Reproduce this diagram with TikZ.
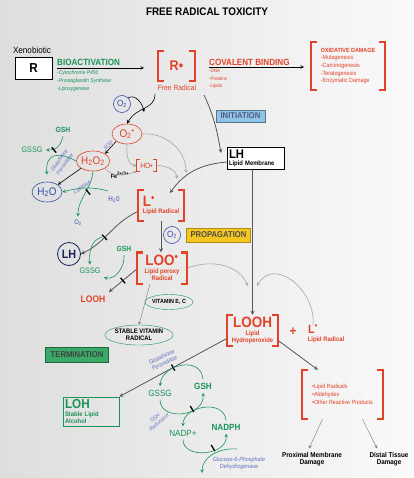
\documentclass[tikz,border=0pt]{standalone}
\usepackage{fontspec}
\setmainfont{Liberation Sans}[FakeStretch=0.9]
\usepackage{xcolor}
\usepackage{tikz}
\usetikzlibrary{shapes.geometric, arrows, positioning, calc}

\definecolor{radred}{RGB}{226,66,40}
\definecolor{enzgreen}{RGB}{24,148,88}
\definecolor{enzblue}{RGB}{96,112,190}
\definecolor{oxblue}{RGB}{48,78,170}
\definecolor{navy}{RGB}{24,36,84}
\definecolor{darkarrow}{RGB}{85,85,85}
\definecolor{lightarrow}{RGB}{165,165,165}
\definecolor{initblue}{RGB}{142,196,232}
\definecolor{propyellow}{RGB}{246,198,32}
\definecolor{termgreen}{RGB}{58,170,104}

\newcommand{\fsz}[2]{\fontsize{#1}{#2}\selectfont}
\newcommand{\redbrackets}[3]{%
  \draw[brak, line width=#2] ([xshift=#3]#1.north west) -| (#1.south west) -- ++(#3,0);
  \draw[brak, line width=#2] ([xshift=-#3]#1.north east) -| (#1.south east) -- ++(-#3,0);}

\tikzstyle{arrow} = [thick,->,>=stealth,darkarrow]
\tikzstyle{thinarrow} = [semithick,->,>=stealth,lightarrow]
\tikzstyle{blackarrow} = [semithick,->,>=stealth,black]
\tikzstyle{greenarrow} = [semithick,->,>=stealth,enzgreen]
\tikzstyle{brak} = [radred, line join=miter]
\tikzstyle{bracketed} = [rectangle, inner sep=0pt, text=radred, font=\bfseries\fsz{6.5}{7.5}, align=center]
\tikzstyle{stage} = [rectangle, draw, semithick, inner sep=1pt, font=\bfseries\fsz{8.5}{10}]
\tikzstyle{molecule} = [ellipse, draw, semithick, inner sep=0pt]
\tikzstyle{enzyme} = [enzblue, font=\itshape\fsz{5.5}{6.5}, align=center, inner sep=0pt]
\tikzstyle{tickmark} = [rectangle, fill=black, inner sep=0pt, minimum width=1.3pt, minimum height=7pt]

\begin{document}
\begin{tikzpicture}[x=1pt, y=-1pt]
    % Background
    \useasboundingbox (0,0) rectangle (413,478);
    \fill[left color=black!13, right color=black!2] (0,0) rectangle (413,478);

    \node[font=\bfseries\fsz{11}{13}] (title) at (207,12) {FREE RADICAL TOXICITY};

    % Bioactivation
    \node[font=\fsz{9}{10}] (xeno) at (32,50) {Xenobiotic};
    \node[rectangle, draw, thick, fill=white, minimum width=37pt, minimum height=22pt, font=\bfseries\fsz{13}{13}] (rbox) at (33.5,68) {R};
    \node[anchor=west, inner sep=0pt, enzgreen, font=\bfseries\fsz{9}{10}] (bioact) at (57,62) {BIOACTIVATION};
    \node[anchor=north west, inner sep=0pt, enzgreen, font=\itshape\fsz{5.5}{8}, align=left] (bioenz) at (57,70) {-Cytochrome P450\\-Prostaglandin Synthase\\-Lipoxygenase};
    \node[bracketed, minimum width=37pt, minimum height=30pt, font=\bfseries\fsz{14}{14}] (rrad) at (176.5,66) {R•};
    \node[radred, font=\fsz{7.5}{8}] (freerad) at (177,88) {Free Radical};
    \coordinate (bioend) at (144,68);
    \draw[blackarrow] (bioact.west |- bioend) -- (bioend);

    % Covalent binding
    \node[anchor=west, inner sep=0pt, radred, font=\bfseries\fsz{9}{10}] (covbind) at (209,62) {COVALENT BINDING};
    \node[anchor=north west, inner sep=0pt, radred, font=\fsz{5}{7.5}, align=left] (covitems) at (209,69) {-DNA\\-Proteins\\-Lipids};
    \node[bracketed, minimum width=74pt, minimum height=48pt, align=left, font=\fsz{6}{7.6}] (oxdmg) at (348,66) {\textbf{OXIDATIVE DAMAGE}\\-Mutagenesis\\-Carcinogenesis\\-Teratogenesis\\-Enzymatic Damage};
    \coordinate (covend) at (304,67);
    \draw[blackarrow] (covbind.west |- covend) -- (covend);

    % Initiation
    \node[stage, fill=initblue, draw=initblue!60!black, text=navy!75, minimum width=49pt, minimum height=12pt] (init) at (240.5,116) {INITIATION};
    \node[rectangle, draw, thick, fill=white, minimum width=57pt, minimum height=22pt, inner sep=2pt, text width=53pt, align=left, font=\bfseries\fsz{6.5}{7}] (lh) at (255.5,158) {{\fsz{12.5}{12.5}LH}\\Lipid Membrane};
    \coordinate (initstart) at (204,95);
    \coordinate (lhin) at (221,153);
    \draw[arrow] (initstart) to[out=-65,in=100] (lhin);

    % Superoxide and peroxide
    \node[circle, draw=oxblue, semithick, inner sep=0pt, minimum size=17pt, oxblue, font=\fsz{9}{9}] (otwo) at (122,104) {O\textsubscript{2}};
    \node[molecule, draw=radred, minimum width=30pt, minimum height=20pt, radred, font=\fsz{11}{11}] (superox) at (127,134) {O\textsubscript{2}\textsuperscript{•}};
    \coordinate (radstart) at (155,94);
    \coordinate (otwojoin) at (144,112);
    \draw[blackarrow] (radstart) .. controls (155,110) and (137,106) .. (superox.north);
    \draw[blackarrow] (otwo.north east) to[out=30,in=100] (otwojoin);
    \node[molecule, draw=radred, minimum width=30pt, minimum height=20pt, radred, font=\fsz{11}{11}] (perox) at (93,161) {H\textsubscript{2}O\textsubscript{2}};
    \draw[blackarrow] (superox.south west) -- node[enzyme, sloped, above=1pt] (sod) {SOD} (perox.north east);

    \node[bracketed, minimum width=19pt, minimum height=11pt, font=\fsz{7.5}{8}] (hyd) at (146.5,165.5) {HO•};
    \node[font=\bfseries\fsz{6}{6}] (fe) at (120,175) {Fe\textsuperscript{2+/3+}};
    \draw[thinarrow] (perox.south east) to[out=-50,in=200] (hyd.south west);
    \draw[thinarrow] (superox.south) to[out=-95,in=180] (hyd.west);
    \coordinate (lradina) at (186,173);
    \coordinate (lradinb) at (177,179);
    \draw[thinarrow] (superox.east) to[out=5,in=90] (lradina);
    \draw[thinarrow] (hyd.east) to[out=0,in=95] (lradinb);

    % Catalase
    \node[molecule, draw=enzgreen, minimum width=30pt, minimum height=20pt, oxblue, font=\fsz{11}{11}] (water) at (47,192) {H\textsubscript{2}O};
    \draw[blackarrow] (perox.south west) -- (water.north east);
    \node[oxblue, font=\fsz{7}{7}] (waterin) at (114,200) {H\textsubscript{2}0};
    \node[oxblue, font=\fsz{6.5}{7}] (otwoout) at (78,223) {O\textsubscript{2}};
    \coordinate (catstart) at (108,191);
    \draw[greenarrow] (catstart) to[out=165,in=15] (water.east);
    \draw[greenarrow] (perox.south) to[out=-95,in=90] (otwoout.north);
    \node[tickmark, rotate=40] (tkcat) at (88,192) {};
    \node[enzyme, rotate=35] (catal) at (82,187) {Catalase};

    % Glutathione peroxidase (upper)
    \node[enzgreen, font=\bfseries\fsz{7.5}{8}] (gsha) at (63,130) {GSH};
    \node[enzgreen, font=\fsz{8}{8}] (gssga) at (32,150) {GSSG};
    \draw[greenarrow] (gsha.south) .. controls (60,150) and (52,150) .. (gssga.east);
    \draw[greenarrow] (perox.west) .. controls (60,152) and (45,152) .. ([yshift=7pt]water.north);
    \node[tickmark, rotate=40] (tkgpa) at (54,150) {};
    \node[enzyme, rotate=55] (gpxa) at (62,162) {Glutathione\\Peroxidase};

    % Lipid radical
    \node[bracketed, minimum width=46pt, minimum height=31pt, align=left] (lrad) at (161,205.5) {{\fsz{15}{15}L\textsuperscript{•}}\\Lipid Radical};
    \coordinate (lradin) at (170,193);
    \draw[arrow] ([yshift=-4pt]lh.west) to[out=185,in=55] (lradin);

    % Propagation
    \node[circle, draw=oxblue, semithick, inner sep=0pt, minimum size=17pt, oxblue, font=\fsz{9}{9}] (otwob) at (172,235) {O\textsubscript{2}};
    \node[stage, fill=propyellow, draw=propyellow!70!black, text=black!70, minimum width=64pt, minimum height=14pt] (prop) at (218.5,235) {PROPAGATION};
    \node[bracketed, minimum width=50pt, minimum height=31pt] (loo) at (162,268) {{\fsz{15}{15}LOO\textsuperscript{•}}\\Lipid peroxy\\Radical};
    \draw[arrow] (lrad.south) -- (lrad.south |- loo.north);

    \node[circle, draw=enzgreen, thick, inner sep=0pt, minimum size=23pt, navy, font=\bfseries\fsz{12}{12}] (lhc) at (69,254) {LH};
    \draw[arrow] ([yshift=-6pt]lrad.west) to[out=205,in=25] node[tickmark, sloped, pos=0.6] (tklh) {} (lhc.east);
    \node[enzgreen, font=\bfseries\fsz{7.5}{8}] (gshb) at (124,249) {GSH};
    \node[enzgreen, font=\fsz{8}{8}] (gssgb) at (90,271) {GSSG};
    \coordinate (gpbstart) at (102,237);
    \draw[greenarrow] (gpbstart) to[out=195,in=95] (gssgb.north);
    \draw[greenarrow] (gshb.south) to[out=-85,in=-15] (gssgb.south east);
    \node[radred, font=\bfseries\fsz{9.5}{10}] (loohsm) at (93,299) {LOOH};
    \draw[arrow] ([yshift=-1pt]loo.west) -- node[tickmark, sloped, pos=0.5] (tkloo) {} (loohsm.north east);

    % Vitamins
    \node[molecule, draw=enzgreen, thin, minimum width=46pt, minimum height=15pt, font=\bfseries\fsz{6}{6}] (vitec) at (169,302) {VITAMIN E, C};
    \node[molecule, draw=enzgreen, thin, minimum width=66pt, minimum height=20pt, font=\bfseries\fsz{6.5}{7}, align=center] (stabv) at (139,335) {STABLE VITAMIN\\RADICAL};
    \draw[->, >=stealth, darkarrow!80] ([xshift=-12pt]loo.south) -- (stabv.north);

    % Lipid hydroperoxide
    \node[bracketed, minimum width=51pt, minimum height=31pt] (looh) at (252.5,330.5) {{\fsz{15}{15}LOOH}\\Lipid\\Hydroperoxide};
    \node[radred, font=\bfseries\fsz{13}{13}] (plus) at (293,332) {+};
    \node[radred, font=\bfseries\fsz{12}{12}, inner sep=0pt] (lradb) at (313,329) {L\textsuperscript{•}};
    \node[radred, font=\bfseries\fsz{6.5}{7}] (lradbtxt) at (326,340) {Lipid Radical};
    \draw[arrow] (lh.south -| looh.north) -- (looh.north);
    \coordinate (loohina) at (248,286);
    \coordinate (loohinb) at (257,286);
    \draw[thinarrow] (loo.east) to[out=20,in=115] (loohina);
    \draw[thinarrow] (lradb.north) to[out=85,in=60, looseness=1.3] (loohinb);

    % Termination
    \node[stage, fill=termgreen, draw=termgreen!60!black, text=black!75, minimum width=63pt, minimum height=15pt] (term) at (77,355) {TERMINATION};
    \node[rectangle, draw=enzgreen, thick, minimum width=56pt, minimum height=29pt, inner sep=2pt, text width=52pt, align=left, enzgreen, font=\bfseries\fsz{6.5}{7.2}] (loh) at (91,411.5) {{\fsz{13}{13}LOH}\\Stable Lipid\\Alcohol};
    \draw[arrow] ([yshift=-8pt]looh.west) -- node[tickmark, sloped, pos=0.5] (tkterm) {} (loh.north east);

    % Glutathione cycle
    \node[enzyme, rotate=25, font=\itshape\fsz{6}{6.5}] (gpxb) at (163,360) {Glutathione\\Peroxidase};
    \node[enzgreen, font=\fsz{9}{9}] (gssgc) at (160,393) {GSSG};
    \node[enzgreen, font=\bfseries\fsz{9}{9}] (gshc) at (203,386) {GSH};
    \draw[greenarrow] (gshc.north) .. controls +(-2,-24) and +(2,-22) .. (gssgc.north);
    \draw[greenarrow] (gssgc.south) .. controls +(0,22) and +(2,24) .. (gshc.south);
    \node[enzgreen, font=\fsz{9}{9}] (nadp) at (183,433) {NADP+};
    \node[enzgreen, font=\bfseries\fsz{9}{9}] (nadph) at (226,427) {NADPH};
    \draw[greenarrow] (nadph.north) .. controls +(-2,-22) and +(0,-20) .. (nadp.north);
    \draw[greenarrow] (nadp.south) .. controls +(0,20) and +(2,22) .. (nadph.south);
    \node[tickmark, rotate=30] (tkred) at (192,409) {};
    \node[enzyme, rotate=40, font=\itshape\fsz{5.5}{6}] (gsred) at (157,420) {GSH\\Reductase};
    \coordinate (gstart) at (237,449);
    \coordinate (gend) at (202,473);
    \draw[greenarrow] (gstart) to[out=175,in=90] (gend);
    \node[tickmark, rotate=30] (tkg) at (213,448) {};
    \node[enzyme, font=\itshape\fsz{6}{7}] (gsixp) at (239,463) {Glucose-6-Phosphate\\Dehydrogenase};

    % Reactive products
    \node[bracketed, minimum width=81pt, minimum height=49pt, align=left, font=\fsz{6}{8}] (prods) at (342.5,394.5) {•Lipid Radicals\\•Aldehydes\\•Other Reactive Products};
    \draw[arrow] ([yshift=-10pt]looh.east) -- ([xshift=16pt]prods.north west);
    \node[font=\bfseries\fsz{7}{7.5}, align=center] (prox) at (312,459) {Proximal Membrane\\Damage};
    \node[font=\bfseries\fsz{7}{7.5}, align=center] (distal) at (389,459) {Distal Tissue\\Damage};
    \draw[->, >=stealth, black!55] ([xshift=-20pt]prods.south) -- ([xshift=-3pt]prox.north);
    \draw[->, >=stealth, black!55] ([xshift=20pt]prods.south) -- ([xshift=-12pt]distal.north);

    % Brackets
    \redbrackets{rrad}{2.4pt}{6pt}
    \redbrackets{oxdmg}{2.4pt}{6pt}
    \redbrackets{hyd}{1.1pt}{3pt}
    \redbrackets{lrad}{2.4pt}{6pt}
    \redbrackets{loo}{2.4pt}{6pt}
    \redbrackets{looh}{2.4pt}{6pt}
    \redbrackets{prods}{2.4pt}{6pt}
\end{tikzpicture}
\end{document}
